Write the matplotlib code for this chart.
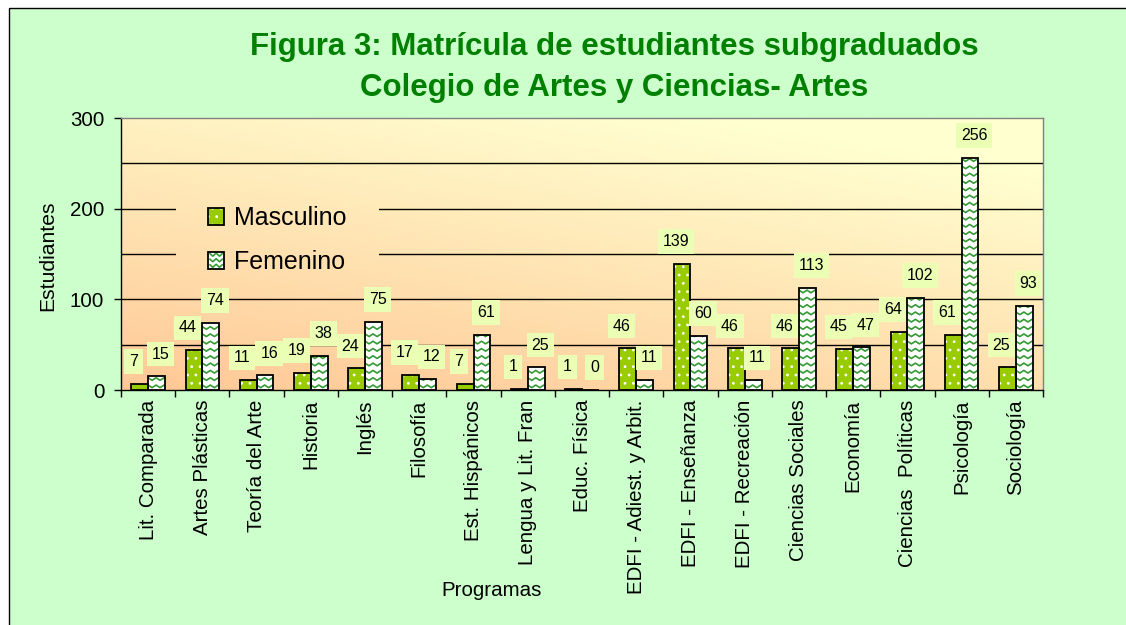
import numpy as np
import matplotlib
matplotlib.use("Agg")
import matplotlib.pyplot as plt
from matplotlib.patches import Rectangle
from matplotlib.collections import LineCollection
from matplotlib.legend_handler import HandlerBase

plt.rcParams['font.family'] = ['Liberation Sans', 'DejaVu Sans']
plt.rcParams['hatch.linewidth'] = 0.8

# ---------------- data ----------------
programas = ["Lit. Comparada", "Artes Plásticas", "Teoría del Arte", "Historia",
             "Inglés", "Filosofía", "Est. Hispánicos", "Lengua y Lit. Fran",
             "Educ. Física", "EDFI - Adiest. y Arbit.", "EDFI - Enseñanza",
             "EDFI - Recreación", "Ciencias Sociales", "Economía",
             "Ciencias  Políticas", "Psicología", "Sociología"]
masculino = [7, 44, 11, 19, 24, 17, 7, 1, 1, 46, 139, 46, 46, 45, 64, 61, 25]
femenino = [15, 74, 16, 38, 75, 12, 61, 25, 0, 11, 60, 11, 113, 47, 102, 256, 93]
y_ticks = [0, 100, 200, 300]
grid_values = [50, 100, 150, 200, 250]
series_names = ["Masculino", "Femenino"]
title_lines = ["Figura 3: Matrícula de estudiantes subgraduados",
               "Colegio de Artes y Ciencias- Artes"]

# ---------------- style ----------------
W, H = 1126, 625
BG = '#CCFFCC'
GREEN_BAR = '#99CC00'
ZIG = '#339933'
TITLE_C = '#008000'
LABEL_BOX = '#EAFFB4'
FS = 14.8

fig = plt.figure(figsize=(W / 100, H / 100), dpi=100, facecolor='white')
fig.patches.append(Rectangle((9 / W, -0.05), 1.1, 1 - 8 / H + 0.05,
                             transform=fig.transFigure, facecolor=BG,
                             edgecolor='black', lw=1.0, zorder=-5))

ax_l, ax_r, ax_t, ax_b = 121, 1043, 118, 390
ax = fig.add_axes([ax_l / W, 1 - ax_b / H, (ax_r - ax_l) / W, (ax_b - ax_t) / H])
ax.set_zorder(2)
ax.set_facecolor('none')

# gradient plot area
gx, gy = np.meshgrid(np.linspace(0, 1, 300), np.linspace(0, 1, 300))
t = np.clip(0.4 * gx + 0.75 * gy, 0, 1)
c0 = np.array([255, 200, 150]) / 255
c1 = np.array([255, 255, 208]) / 255
img = c0 + (c1 - c0) * t[..., None]
ax.imshow(img, extent=[0, 1, 0, 1], transform=ax.transAxes, origin='lower',
          aspect='auto', zorder=0, interpolation='bilinear')

n = len(programas)
x = np.arange(n)
bw = 0.31
ax.set_xlim(-0.5, n - 0.5)
ax.set_ylim(0, 300)

for g in grid_values:
    ax.axhline(g, color='black', lw=1.0, zorder=1)

# legend background (cuts gridlines) - same gradient, clipped
leg_bg = ax.imshow(img, extent=[0, 1, 0, 1], transform=ax.transAxes, origin='lower',
                   aspect='auto', zorder=1.5, interpolation='bilinear')
clip = Rectangle(((176 - ax_l) / (ax_r - ax_l), (ax_b - 290) / (ax_b - ax_t)),
                 (379 - 176) / (ax_r - ax_l), (290 - 188) / (ax_b - ax_t),
                 transform=ax.transAxes)
leg_bg.set_clip_path(clip)

# Masculino bars
bm = ax.bar(x - bw / 2, masculino, bw, color=GREEN_BAR, edgecolor='white',
            lw=0, hatch='..', zorder=3)
ax.bar(x - bw / 2, masculino, bw, facecolor='none', edgecolor='black', lw=1.3, zorder=3.2)

# Femenino bars
bf = ax.bar(x + bw / 2, femenino, bw, color='white', lw=0, zorder=3)
xpx = (n) / (ax_r - ax_l)
ypx = 300 / (ax_b - ax_t)
period = 8 * xpx
amp = 2.6 * ypx
spacing = 7.3 * ypx
for p in bf:
    x0, w, h = p.get_x(), p.get_width(), p.get_height()
    if h <= 0:
        continue
    xs = np.arange(x0 - period, x0 + w + period, period / 2)
    sgn = np.where(np.arange(len(xs)) % 2 == 0, 0.5, -0.5)
    segs = [np.column_stack([xs, yy + amp * sgn])
            for yy in np.arange(spacing / 2, h + spacing, spacing)]
    lc = LineCollection(segs, colors=ZIG, linewidths=1.2, zorder=3.1)
    ax.add_collection(lc, autolim=False)
    lc.set_clip_path(p.get_path(), p.get_transform())
ax.bar(x + bw / 2, femenino, bw, facecolor='none', edgecolor='black', lw=1.3, zorder=3.2)

# data labels
for rects, vals, dx in [(bm, masculino, -4.5), (bf, femenino, 3.0)]:
    for r, v in zip(rects, vals):
        ax.annotate(str(v), (r.get_x() + r.get_width() / 2, r.get_height()),
                    xytext=(dx, 16), textcoords='offset points', ha='center',
                    va='center', fontsize=11.5, zorder=6,
                    bbox=dict(boxstyle='square,pad=0.3', fc=LABEL_BOX, ec='none'))

ax.set_xlim(-0.5, n - 0.5)
ax.set_ylim(0, 300)

# axes / ticks
ax.set_yticks(y_ticks)
ax.set_yticklabels([str(v) for v in y_ticks], fontsize=FS)
ax.tick_params(axis='y', length=5, width=1, pad=7, direction='out')
ax.set_xticks(np.arange(n + 1) - 0.5)
ax.set_xticklabels([])
ax.set_xticks(x, minor=True)
ax.set_xticklabels(programas, minor=True, rotation=90, fontsize=FS)
ax.tick_params(axis='x', which='major', length=5, width=1, direction='out')
ax.tick_params(axis='x', which='minor', length=0, pad=7)
for s in ['left', 'bottom']:
    ax.spines[s].set_color('black')
    ax.spines[s].set_linewidth(1.0)
for s in ['top', 'right']:
    ax.spines[s].set_color('#808080')
    ax.spines[s].set_linewidth(1.0)

fig.text(48 / W, 1 - 256 / H, 'Estudiantes', rotation=90, ha='center', va='center', fontsize=15.2)
fig.text(492 / W, 1 - 591 / H, 'Programas', ha='center', va='center', fontsize=FS)

fig.text(614 / W, 1 - 47 / H, title_lines[0], ha='center', va='center',
         fontsize=22.5, fontweight='bold', color=TITLE_C)
fig.text(614 / W, 1 - 88 / H, title_lines[1], ha='center', va='center',
         fontsize=22.5, fontweight='bold', color=TITLE_C)


# legend
class MascHandler(HandlerBase):
    def create_artists(self, legend, orig_handle, xdescent, ydescent, width, height, fontsize, trans):
        r1 = Rectangle((-xdescent, -ydescent), width, height, facecolor=GREEN_BAR,
                       edgecolor='white', lw=0, hatch='..', transform=trans)
        r2 = Rectangle((-xdescent, -ydescent), width, height, facecolor='none',
                       edgecolor='black', lw=1.3, transform=trans)
        return [r1, r2]


class FemHandler(HandlerBase):
    def create_artists(self, legend, orig_handle, xdescent, ydescent, width, height, fontsize, trans):
        r1 = Rectangle((-xdescent, -ydescent), width, height, facecolor='white',
                       edgecolor='none', lw=0, transform=trans)
        segs = []
        for k in range(3):
            y0 = -ydescent + height * (k + 0.5) / 3
            xs = np.linspace(-xdescent + 1, -xdescent + width - 1, 5)
            ys = y0 + np.array([0.5, -0.5, 0.5, -0.5, 0.5]) * height * 0.18
            segs.append(np.column_stack([xs, ys]))
        lc = LineCollection(segs, colors=ZIG, linewidths=1.2, transform=trans)
        r2 = Rectangle((-xdescent, -ydescent), width, height, facecolor='none',
                       edgecolor='black', lw=1.3, transform=trans)
        return [r1, lc, r2]


h1 = Rectangle((0, 0), 1, 1)
h2 = Rectangle((0, 0), 1, 1)
leg = ax.legend([h1, h2], series_names,
                handler_map={h1: MascHandler(), h2: FemHandler()},
                loc='upper left',
                bbox_to_anchor=((208 - ax_l) / (ax_r - ax_l), (ax_b - 206) / (ax_b - ax_t)),
                fontsize=18, frameon=False, handlelength=0.65, handleheight=0.65,
                handletextpad=0.4, labelspacing=0.8, borderpad=0, borderaxespad=0)
leg.set_zorder(7)

fig.savefig('out.png', dpi=100, facecolor=fig.get_facecolor())
